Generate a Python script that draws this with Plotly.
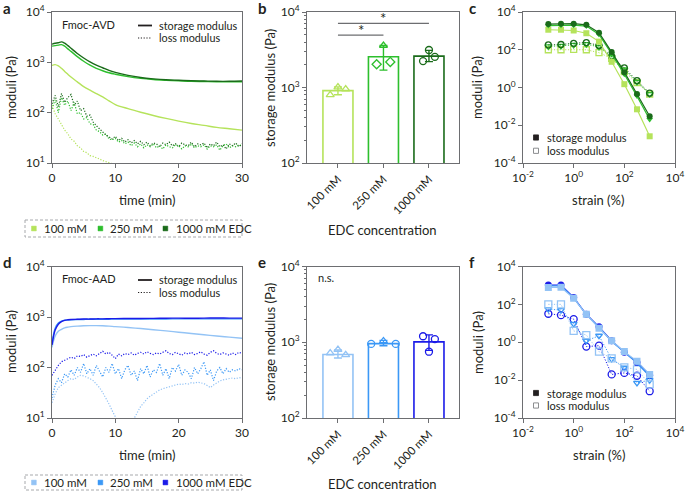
import math
import plotly.graph_objects as go

W, H = 685, 491
FONT = "Lato"
TXT = "#231f20"
AX = "#6d6e71"

GREEN = ["#b5e35b", "#2dbf2d", "#1a6b1a"]
BLUE = ["#93c3f5", "#3b98f6", "#1b1be8"]

conc_labels = ["100 mM", "250 mM", "1000 mM"]
legend_labels = ["100 mM", "250 mM", "1000 mM EDC"]

# ---------------- panel a / d : time sweeps ----------------
t_storage = [0, 0.5, 1, 1.5, 2, 2.5, 3, 4, 5, 6, 7, 8, 9, 10, 12, 14, 16, 18, 20, 22, 24, 26, 28, 30]
t_loss = [i * 0.5 for i in range(61)]

a_stor_100 = [870, 900, 850, 760, 660, 580, 510, 410, 330, 280, 240, 205, 172, 145, 120, 102, 88, 77, 68, 61, 56, 51, 48, 45]
a_stor_250 = [2100, 2150, 2200, 2250, 2100, 1850, 1650, 1300, 1050, 880, 760, 680, 620, 580, 520, 480, 455, 440, 430, 420, 415, 410, 410, 410]
a_stor_1000 = [2300, 2400, 2450, 2550, 2400, 2150, 1900, 1500, 1220, 1020, 880, 780, 690, 630, 550, 500, 470, 450, 440, 430, 425, 420, 420, 425]

a_loss_100 = [140, 95, 75, 58, 45, 38, 30, 27, 22, 20,
              17, 16, 14, 13.5, 12.5, 12, 11.2, 10.6, 10.2, 9.6,
              9.2, 8.8, 8.4, 8, 7.8, 7.5, 7.2, 7, 6.8, 6.6,
              6.4, 6.2, 6, 5.9, 5.8, 5.6, 5.5, 5.4, 5.3, 5.2,
              5.1, 5, 4.9, 4.8, 4.7, 4.6, 4.5, 4.4, 4.4, 4.3,
              4.2, 4.1, 4.1, 4, 3.9, 3.9, 3.8, 3.8, 3.7, 3.7, 3.6]
a_loss_250 = [120, 180, 100, 200, 140, 170, 110, 160, 95, 100,
              75, 80, 60, 58, 45, 42, 36, 38, 30, 29,
              31, 26, 28, 24, 26, 22, 25, 21, 24, 20,
              23, 21, 24, 20, 22, 19, 23, 21, 20, 23,
              22, 19, 22, 21, 24, 20, 22, 21, 23, 19,
              22, 21, 23, 18, 22, 24, 20, 22, 21, 23, 22]
a_loss_1000 = [150, 220, 130, 240, 160, 200, 230, 140, 170, 110,
               120, 85, 90, 65, 55, 48, 40, 36, 33, 30,
               34, 28, 31, 26, 29, 25, 28, 24, 27, 23,
               26, 22, 25, 24, 21, 25, 23, 26, 22, 24,
               21, 25, 23, 22, 26, 21, 24, 23, 25, 20,
               24, 22, 26, 21, 23, 19, 24, 22, 25, 21, 24]

d_stor_100 = [250, 420, 520, 570, 610, 630, 645, 660, 670, 675, 675, 670, 660, 645, 620, 590, 560, 530, 500, 470, 445, 420, 400, 380]
d_stor_250 = [300, 600, 760, 830, 860, 870, 880, 890, 895, 900, 900, 905, 905, 910, 910, 912, 915, 915, 918, 918, 920, 920, 920, 920]
d_stor_1000 = [280, 550, 720, 810, 860, 880, 890, 900, 910, 910, 920, 920, 925, 930, 935, 935, 940, 945, 950, 945, 950, 955, 950, 950]

d_loss_100 = [20, 30, 40, 45, 50, 55, 60, 58, 65, 70,
              68, 65, 60, 55, 48, 40, 32, 25, 19, 14,
              10, 8, 6, 5, 6, 7, 10, 13, 17, 20,
              24, 27, 30, 33, 36, 38, 40, 42, 44, 45,
              47, 46, 48, 47, 50, 49, 51, 50, 48, 44,
              40, 45, 50, 54, 57, 58, 60, 62, 60, 63, 62]
d_loss_250 = [25, 45, 60, 50, 75, 65, 90, 70, 100, 80,
              120, 75, 95, 70, 110, 85, 65, 100, 80, 120,
              75, 95, 60, 90, 110, 70, 85, 55, 95, 75,
              110, 65, 90, 80, 120, 70, 95, 60, 100, 85,
              115, 70, 90, 80, 60, 100, 75, 95, 130, 70,
              90, 55, 85, 100, 75, 95, 80, 90, 85, 95, 90]
d_loss_1000 = [70, 90, 110, 130, 140, 150, 160, 150, 170, 165,
               180, 160, 175, 185, 170, 190, 210, 185, 200, 175,
               150, 185, 170, 190, 180, 195, 175, 190, 200, 185,
               205, 190, 180, 195, 185, 200, 215, 190, 180, 200,
               185, 175, 195, 185, 200, 180, 190, 205, 185, 175,
               200, 215, 190, 180, 195, 185, 175, 195, 180, 200, 190]

# ---------------- panel b / e : bar charts ----------------
b_means = [910, 2550, 2600]
b_err_hi = [1020, 3600, 3100]
b_err_lo = [800, 1700, 2200]
b_points = [[800, 1010, 950], [2030, 3600, 2180], [2240, 3140, 2550]]
b_sig_levels = [4950, 7080]

e_means = [690, 960, 1010]
e_err_hi = [790, 1060, 1250]
e_err_lo = [620, 900, 780]
e_points = [[720, 800, 680], [950, 1040, 950], [1200, 750, 1100]]

# ---------------- panel c / f : strain sweeps ----------------
strain = [0.1, 0.316, 1, 3.16, 10, 31.6, 100, 316, 1000]

c_stor_100 = [1150, 1150, 1050, 750, 270, 23, 1.5, 0.07, 0.0026]
c_stor_250 = [1900, 2000, 2000, 1800, 650, 60, 5, 0.35, 0.02]
c_stor_1000 = [2300, 2400, 2400, 2100, 800, 75, 6.5, 0.45, 0.03]
c_loss_100 = [100, 100, 105, 100, 70, 35, 7, 1.8, 0.45]
c_loss_250 = [150, 160, 180, 200, 140, 40, 9, 2, 0.45]
c_loss_1000 = [180, 190, 220, 240, 170, 45, 11, 2.3, 0.5]

f_stor_100 = [780, 800, 210, 30, 5.5, 1.2, 0.32, 0.1, 0.02]
f_stor_250 = [950, 950, 220, 29, 6.2, 1.1, 0.3, 0.08, 0.016]
f_stor_1000 = [1050, 1050, 230, 30, 6.5, 1.2, 0.3, 0.085, 0.018]
f_loss_100 = [100, 100, 4, 2.4, 0.32, 0.14, 0.047, 0.037, 0.006]
f_loss_250 = [56, 50, 9.3, 1.2, 2.2, 0.13, 0.045, 0.0072, 0.01]
f_loss_1000 = [32, 27, 16.6, 0.59, 0.66, 0.02, 0.024, 0.017, 0.0026]

# ---------------- helpers ----------------
def xd(x0, x1):
    return [x0 / W, x1 / W]

def yd(y0, y1):
    return [1 - y1 / H, 1 - y0 / H]

def px(x):
    return x / W

def py(y):
    return 1 - y / H

def sup(e):
    return "10<sup>%d</sup>" % e

A_X, B_X, C_X = (52, 242), (307, 459), (523, 675)
TOP_Y, BOT_Y = (12, 163), (266.5, 418)
DOT = "1.2px,1.6px"

base_axis = dict(showline=True, linecolor=AX, linewidth=1, mirror=True, ticks="outside",
                 ticklen=4, tickcolor=AX, tickwidth=1, showgrid=False, zeroline=False,
                 automargin=False, tickfont=dict(family=FONT, size=12, color=TXT))

def logy(lo, hi, minor=False):
    step = 1 if hi - lo <= 3 else 2
    d = dict(base_axis, type="log", range=[lo, hi],
             tickmode="array", tickvals=[10 ** e for e in range(lo, hi + 1, step)],
             ticktext=[sup(e) for e in range(lo, hi + 1, step)])
    if minor:
        mv = [m * 10 ** e for e in range(lo, hi) for m in range(2, 10)]
        d["minor"] = dict(ticks="outside", ticklen=2, tickcolor=AX, tickmode="array", tickvals=mv)
    return d

fig = go.Figure()
layout = dict(width=W, height=H, margin=dict(l=0, r=0, t=0, b=0, autoexpand=False), showlegend=False,
              template="none",
              plot_bgcolor="white", paper_bgcolor="white", font=dict(family=FONT, color=TXT))

panels = [("", A_X, TOP_Y), ("2", B_X, TOP_Y), ("3", C_X, TOP_Y),
          ("4", A_X, BOT_Y), ("5", B_X, BOT_Y), ("6", C_X, BOT_Y)]

for suf, xdom, ydom in panels:
    layout["xaxis" + suf] = dict(domain=xd(*xdom), anchor="y" + suf)
    layout["yaxis" + suf] = dict(domain=yd(*ydom), anchor="x" + suf)

time_x = dict(base_axis, range=[0, 30], tickmode="array", tickvals=[0, 10, 20, 30])
bar_x = dict(base_axis, range=[-0.68, 2.66], tickmode="array", tickvals=[0, 1, 2],
             ticktext=conc_labels, tickangle=-45, tickfont=dict(family=FONT, size=11.5, color=TXT))
strain_x = dict(base_axis, type="log", range=[-2, 4], tickmode="array",
                tickvals=[10 ** e for e in (-2, 0, 2, 4)], ticktext=[sup(e) for e in (-2, 0, 2, 4)])
strain_y = dict(base_axis, type="log", range=[-4, 4], tickmode="array",
                tickvals=[10 ** e for e in (-4, -2, 0, 2, 4)], ticktext=[sup(e) for e in (-4, -2, 0, 2, 4)])

layout["xaxis"].update(time_x); layout["yaxis"].update(logy(1, 4))
layout["xaxis2"].update(bar_x); layout["yaxis2"].update(logy(2, 4, minor=True))
layout["xaxis3"].update(strain_x); layout["yaxis3"].update(strain_y)
layout["xaxis4"].update(time_x); layout["yaxis4"].update(logy(1, 4))
layout["xaxis5"].update(bar_x); layout["yaxis5"].update(logy(2, 4, minor=True))
layout["xaxis6"].update(strain_x); layout["yaxis6"].update(strain_y)

# ---- time sweep traces ----
def time_panel(stor, loss, cols, xa, ya):
    for l, c in zip(loss, cols):
        fig.add_trace(go.Scatter(x=t_loss, y=l, mode="lines", line=dict(color=c, width=1.2, dash=DOT),
                                 xaxis=xa, yaxis=ya))
    for s, c in zip(stor, cols):
        fig.add_trace(go.Scatter(x=t_storage, y=s, mode="lines", line=dict(color=c, width=1.4, shape="spline"),
                                 xaxis=xa, yaxis=ya))

time_panel([a_stor_100, a_stor_250, a_stor_1000], [a_loss_100, a_loss_250, a_loss_1000], GREEN, "x", "y")
time_panel([d_stor_100, d_stor_250, d_stor_1000], [d_loss_100, d_loss_250, d_loss_1000], BLUE, "x4", "y4")

# ---- bar traces ----
def bar_panel(means, hi, lo, pts, cols, syms, offs, xa, ya):
    for i, (m, h, l, p, c) in enumerate(zip(means, hi, lo, pts, cols)):
        fig.add_trace(go.Bar(x=[i], y=[m], width=0.66, xaxis=xa, yaxis=ya,
                             marker=dict(color="white", line=dict(color=c, width=1.6)),
                             error_y=dict(type="data", symmetric=False, array=[h - m], arrayminus=[m - l],
                                          color=c, thickness=1.4, width=4)))
        fig.add_trace(go.Scatter(x=[i + o for o in offs[i]], y=p, mode="markers", xaxis=xa, yaxis=ya,
                                 marker=dict(symbol=syms[i], size=7, color=c, line=dict(color=c, width=1.3))))

bar_panel(b_means, b_err_hi, b_err_lo, b_points, GREEN,
          [["triangle-up-open"] * 3, ["diamond-open", "triangle-up-open", "diamond-open"], ["circle-open"] * 3],
          [[-0.17, 0, 0.17], [-0.15, 0, 0.15], [-0.13, 0, 0.13]], "x2", "y2")
bar_panel(e_means, e_err_hi, e_err_lo, e_points, BLUE,
          [["triangle-up-open"] * 3, ["circle-open", "triangle-up-open", "circle-open"], ["circle-open"] * 3],
          [[-0.17, 0, 0.17], [-0.27, 0, 0.27], [-0.13, 0, 0.13]], "x5", "y5")

# significance brackets in b (drawn as line traces in data space)
ann = []
for (x0, x1), yv in zip([(0, 1), (0, 2)], b_sig_levels):
    fig.add_trace(go.Scatter(x=[x0, x1], y=[yv, yv], mode="lines", xaxis="x2", yaxis="y2",
                             line=dict(color=AX, width=1.2), hoverinfo="skip"))
    ann.append(dict(text="*", x=(x0 + x1) / 2, y=math.log10(yv), xref="x2", yref="y2", showarrow=False,
                    yanchor="bottom", yshift=-6, font=dict(family=FONT, size=15, color=TXT)))

# ---- strain sweep traces ----
def strain_panel(stor, loss, cols, syms, sizes, order, xa, ya):
    for i in order:
        fig.add_trace(go.Scatter(x=strain, y=loss[i], mode="lines+markers", xaxis=xa, yaxis=ya,
                                 line=dict(color=cols[i], width=1, dash=DOT),
                                 marker=dict(symbol=syms[i] + "-open", size=sizes[i], color=cols[i],
                                             line=dict(color=cols[i], width=1.3))))
    for i in order:
        fig.add_trace(go.Scatter(x=strain, y=stor[i], mode="lines+markers", xaxis=xa, yaxis=ya,
                                 line=dict(color=cols[i], width=1.2),
                                 marker=dict(symbol=syms[i], size=sizes[i], color=cols[i])))

strain_panel([c_stor_100, c_stor_250, c_stor_1000], [c_loss_100, c_loss_250, c_loss_1000], GREEN,
             ["square", "triangle-down", "circle"], [6, 6, 6], [0, 1, 2], "x3", "y3")
strain_panel([f_stor_100, f_stor_250, f_stor_1000], [f_loss_100, f_loss_250, f_loss_1000], BLUE,
             ["square", "triangle-down", "circle"], [7, 6, 7], [2, 1, 0], "x6", "y6")

# ---------------- annotations & shapes ----------------
shapes = []

def text(s, x, y, size=12, xanchor="center", yanchor="middle", angle=0, color=TXT):
    ann.append(dict(text=s, x=px(x), y=py(y), xref="paper", yref="paper", showarrow=False,
                    xanchor=xanchor, yanchor=yanchor, textangle=angle,
                    font=dict(family=FONT, size=size, color=color)))

for lab, x, y in [("a", 1, 8), ("b", 256, 8), ("c", 467, 8), ("d", 1, 262), ("e", 256, 262), ("f", 467, 262)]:
    text("<b>%s</b>" % lab, x, y, size=15, xanchor="left")

for s, x, y, ang in [("moduli (Pa)", 11, 88, -90), ("time (min)", 147, 200, 0),
                     ("storage modulus (Pa)", 270, 88, -90), ("EDC concentration", 382, 230, 0),
                     ("moduli (Pa)", 477, 88, -90), ("strain (%)", 598, 200, 0),
                     ("moduli (Pa)", 11, 342, -90), ("time (min)", 147, 455, 0),
                     ("storage modulus (Pa)", 270, 342, -90), ("EDC concentration", 382, 484, 0),
                     ("moduli (Pa)", 478, 342, -90), ("strain (%)", 599, 455, 0)]:
    text(s, x, y, size=13, angle=ang)

def line_shape(x0, y0, x1, y1, color=TXT, width=1.5, dash="solid"):
    shapes.append(dict(type="line", xref="paper", yref="paper", x0=px(x0), y0=py(y0), x1=px(x1), y1=py(y1),
                       line=dict(color=color, width=width, dash=dash)))

def rect_shape(x0, y0, x1, y1, fill, line_color, width=1, dash="solid"):
    shapes.append(dict(type="rect", xref="paper", yref="paper", x0=px(x0), y0=py(y0), x1=px(x1), y1=py(y1),
                       fillcolor=fill, line=dict(color=line_color, width=width, dash=dash)))

# line-style legends in a and d
for name, ty in [("Fmoc-AVD", 0), ("Fmoc-AAD", 254.5)]:
    text(name, 60, 24 + ty, size=11, xanchor="left")
    line_shape(138, 25.5 + ty, 152, 25.5 + ty, color=TXT, width=1.8)
    line_shape(138, 38 + ty, 152, 38 + ty, color=TXT, width=1.2, dash=DOT)
    text("storage modulus", 157, 25 + ty, size=10.8, xanchor="left")
    text("loss modulus", 157, 37.5 + ty, size=10.8, xanchor="left")

# concentration legend boxes
for cols, y0, y1 in [(GREEN, 220, 237), (BLUE, 475, 490)]:
    rect_shape(25, y0, 242, y1, "rgba(0,0,0,0)", "#a7a9ac", width=1, dash="3px,2px")
    yc = (y0 + y1) / 2
    for (sx, tx), c, lab in zip([(31.5, 41.5), (98, 107.5), (163, 174)], cols, legend_labels):
        rect_shape(sx, yc - 2.4, sx + 4.8, yc + 2.4, c, c, width=0.5)
        text(lab, tx, yc, size=11.5, xanchor="left")

# storage / loss marker legends in c and f
for ys, yl in [(137.5, 150.8), (393, 405.5)]:
    rect_shape(533.5, ys - 2.6, 538.5, ys + 2.6, "#231f20", "#231f20", width=0.8)
    rect_shape(533.5, yl - 2.6, 538.5, yl + 2.6, "white", "#808285", width=0.9)
    text("storage modulus", 545, ys, size=11, xanchor="left")
    text("loss modulus", 545, yl, size=11, xanchor="left")

text("n.s.", 316, 277, size=11, xanchor="left")

layout["annotations"] = ann
layout["shapes"] = shapes
fig.update_layout(**layout)
fig.write_html("out.html", config={"displayModeBar": False},
               post_script="document.body.style.margin='0px';document.body.style.overflow='hidden';")
